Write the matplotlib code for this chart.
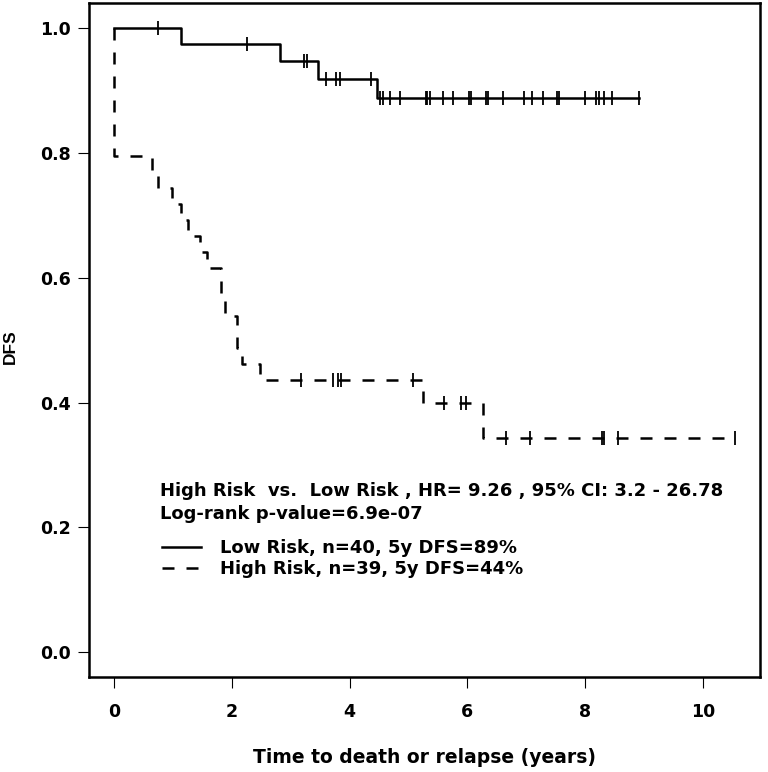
import numpy as np
import matplotlib
matplotlib.use("Agg")
import matplotlib.pyplot as plt
from matplotlib.lines import Line2D

# Low risk group (n=40)
low_event_times = [1.13, 2.81, 3.46, 4.47]
low_surv = [0.974, 0.947, 0.918, 0.887]
low_censor = [0.74, 2.26, 3.23, 3.27, 3.60, 3.77, 3.84, 4.37, 4.51, 4.57,
              4.68, 4.86, 5.29, 5.32, 5.36, 5.58, 5.76, 6.02, 6.06, 6.31,
              6.35, 6.60, 6.96, 7.09, 7.28, 7.52, 7.56, 8.00, 8.18, 8.23,
              8.33, 8.46, 8.91]

# High risk group (n=39)
high_event_times = [0.0, 0.635, 0.74, 0.975, 1.13, 1.256, 1.46, 1.58, 1.81,
                    1.89, 2.095, 2.18, 2.47, 5.24, 6.27]
high_surv = [0.795, 0.769, 0.744, 0.718, 0.692, 0.667, 0.641, 0.615, 0.564,
             0.538, 0.487, 0.462, 0.436, 0.400, 0.343]
high_censor = [3.18, 3.71, 3.80, 3.85, 5.07, 5.61, 5.90, 5.97, 6.66, 7.06,
               8.29, 8.33, 8.56, 10.55]

x_ticks = [0, 2, 4, 6, 8, 10]
y_ticks = [0.0, 0.2, 0.4, 0.6, 0.8, 1.0]

stat_lines = ["High Risk  vs.  Low Risk , HR= 9.26 , 95% CI: 3.2 - 26.78",
              "Log-rank p-value=6.9e-07"]
legend_labels = ["Low Risk, n=40, 5y DFS=89%", "High Risk, n=39, 5y DFS=44%"]

plt.rcParams["font.family"] = ["DejaVu Sans"]
plt.rcParams["font.weight"] = "bold"
plt.rcParams["axes.labelweight"] = "bold"

LW = 1.8
DASH = (4.8, 4.8)


def km_curve(ax, times, surv, censor):
    end = max(censor[-1], times[-1])
    xs = [0.0] + list(times) + [end]
    ys = [1.0] + list(surv) + [surv[-1]]
    line, = ax.step(xs, ys, where="post", color="black", lw=LW)
    # censor marks sit on the curve
    t = np.asarray(times)
    s = np.asarray([1.0] + list(surv))
    cy = s[np.searchsorted(t, censor, side="right")]
    ax.plot(censor, cy, ls="none", marker="|", ms=9.5, mew=1.3, color="black")
    return line


fig = plt.figure(figsize=(7.68, 7.72), dpi=100)
ax = fig.add_axes([0.1163, 0.1227, 0.8733, 0.8735])

km_curve(ax, low_event_times, low_surv, low_censor)
hl = km_curve(ax, high_event_times, high_surv, high_censor)
hl.set_dashes(DASH)

xmax = max(low_censor + high_censor)
ax.set_xlim(-0.04 * xmax, 1.04 * xmax)
ax.set_ylim(-0.04, 1.04)
ax.set_xticks(x_ticks)
ax.set_yticks(y_ticks)
ax.set_xticklabels([str(v) for v in x_ticks])
ax.set_yticklabels([f"{v:.1f}" for v in y_ticks])
ax.tick_params(direction="out", length=7.6, width=0.8, labelsize=12.5)
ax.tick_params(axis="x", pad=11)
ax.tick_params(axis="y", pad=5.8)
for sp in ax.spines.values():
    sp.set_linewidth(LW)

ax.set_xlabel("Time to death or relapse (years)", fontsize=13.5,
              fontweight="bold")
ax.xaxis.set_label_coords(0.5, -0.105)
ax.set_ylabel("DFS", fontsize=12.5, fontweight="bold",
              family=["Liberation Sans", "DejaVu Sans"])
ax.yaxis.set_label_coords(-0.106, 0.49)

ax.text(0.78, 0.258, stat_lines[0], fontsize=13, va="center", ha="left")
ax.text(0.78, 0.222, stat_lines[1], fontsize=13, va="center", ha="left")

handles = [Line2D([], [], color="black", lw=LW),
           Line2D([], [], color="black", lw=LW, dashes=DASH)]
ax.legend(handles, legend_labels, loc="center left",
          bbox_to_anchor=(0.81, 0.150), bbox_transform=ax.transData,
          frameon=False, fontsize=13, handlelength=2.16, handletextpad=1.05,
          labelspacing=0.17, borderpad=0, borderaxespad=0)

fig.savefig("out.png", dpi=100)
